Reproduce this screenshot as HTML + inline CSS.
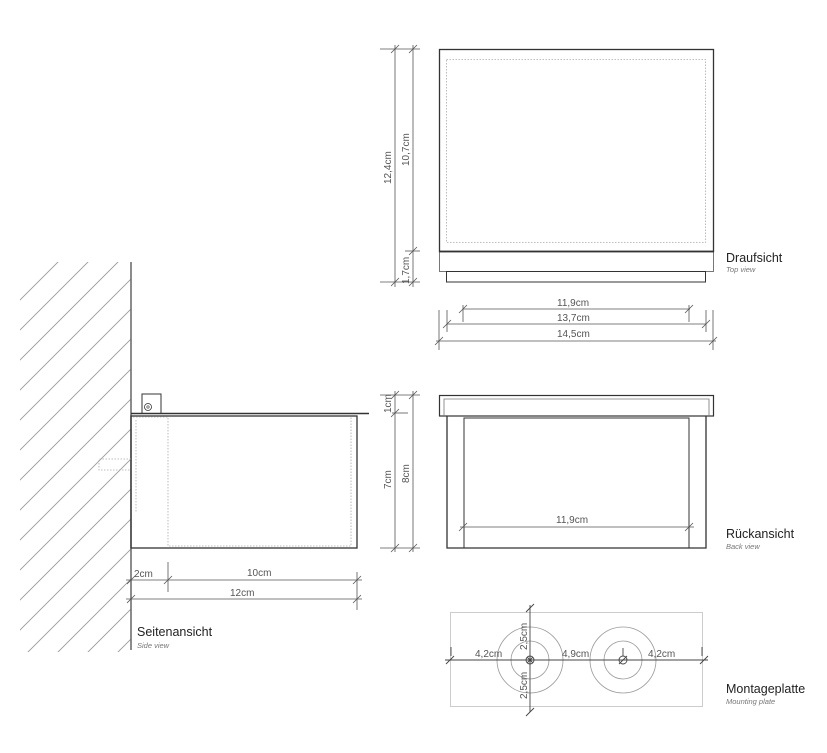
<!DOCTYPE html>
<html><head><meta charset="utf-8"><style>
html,body{margin:0;padding:0;background:#fff;width:827px;height:753px;overflow:hidden;}
svg{display:block;font-family:"Liberation Sans",sans-serif;}
.t{font-size:10px;fill:#555;}
.l{font-size:12.5px;fill:#222;}
.s{font-size:7.5px;fill:#777;font-style:italic;}
</style></head><body>
<svg width="827" height="753" viewBox="0 0 827 753">
<defs><clipPath id="wc"><rect x="20" y="262" width="111" height="390"/></clipPath></defs>
<g clip-path="url(#wc)" stroke="#999" stroke-width="0.9">
<g id="h">
<line x1="-100" y1="660" x2="300" y2="260"/>
</g>
<use href="#h" transform="translate(0,-240)"/><use href="#h" transform="translate(0,-210)"/>
<use href="#h" transform="translate(0,-180)"/><use href="#h" transform="translate(0,-150)"/>
<use href="#h" transform="translate(0,-120)"/><use href="#h" transform="translate(0,-90)"/>
<use href="#h" transform="translate(0,-60)"/><use href="#h" transform="translate(0,-30)"/>
<use href="#h" transform="translate(0,30)"/><use href="#h" transform="translate(0,60)"/>
<use href="#h" transform="translate(0,90)"/><use href="#h" transform="translate(0,120)"/>
<use href="#h" transform="translate(0,150)"/><use href="#h" transform="translate(0,180)"/>
<use href="#h" transform="translate(0,210)"/><use href="#h" transform="translate(0,240)"/>
<use href="#h" transform="translate(0,270)"/><use href="#h" transform="translate(0,300)"/>
</g>
<g fill="none" stroke="#333" stroke-width="1">
<line x1="131" y1="262" x2="131" y2="650" stroke="#666" stroke-width="1.5"/>
<rect x="131" y="416" width="226" height="132" stroke-width="1.3"/>
<line x1="131" y1="413.5" x2="369" y2="413.5" stroke-width="1.6"/>
<path d="M142 413V394H161V413"/>
<circle cx="148" cy="407" r="3.5" stroke-width="0.8"/><circle cx="148" cy="407" r="1.2" stroke-width="0.6"/>
<g stroke="#aaa" stroke-dasharray="1.5,1.5" stroke-width="0.8">
<path d="M133 417H168V546H351V417"/><path d="M131 459H99V470H131"/><path d="M136 420V512"/>
</g>
<g stroke="#555" stroke-width="0.8">
<line x1="126" y1="580" x2="362" y2="580"/><line x1="126" y1="599" x2="362" y2="599"/>
<line x1="168" y1="562" x2="168" y2="592"/><line x1="357" y1="572" x2="357" y2="610"/>
<path d="M127 584l8-8M164 584l8-8M353 584l8-8M127 603l8-8M353 603l8-8"/>
</g>
<rect x="439.5" y="49.5" width="274" height="202" stroke-width="1.3"/>
<rect x="439.5" y="251.5" width="274" height="20" stroke="#777"/>
<line x1="439" y1="251.5" x2="714" y2="251.5" stroke-width="1.8"/>
<rect x="446.5" y="271.5" width="259" height="10.5"/>
<rect x="446.5" y="59.5" width="259" height="183" stroke="#aaa" stroke-dasharray="1.5,1.5" stroke-width="0.8"/>
<g stroke="#555" stroke-width="0.8">
<line x1="395" y1="45" x2="395" y2="287"/><line x1="413" y1="45" x2="413" y2="287"/>
<line x1="380" y1="49" x2="420" y2="49"/><line x1="380" y1="282" x2="420" y2="282"/>
<line x1="405" y1="251" x2="420" y2="251"/>
<path d="M391 53l8-8M409 53l8-8M391 286l8-8M409 286l8-8M409 255l8-8"/>
<line x1="463" y1="309" x2="690" y2="309"/><line x1="447" y1="324" x2="706" y2="324"/><line x1="436" y1="341" x2="716" y2="341"/>
<line x1="439" y1="310" x2="439" y2="350"/><line x1="713" y1="310" x2="713" y2="350"/>
<line x1="447" y1="310" x2="447" y2="332"/><line x1="706" y1="310" x2="706" y2="332"/>
<line x1="463" y1="305" x2="463" y2="322"/><line x1="689" y1="305" x2="689" y2="322"/>
<path d="M459 313l8-8M685 313l8-8M443 328l8-8M702 328l8-8M435 345l8-8M709 345l8-8"/>
</g>
<rect x="439.5" y="395.5" width="274" height="20.5" stroke-width="1.2"/>
<path d="M444 416V399H709V416" stroke="#777" stroke-width="0.8"/>
<path d="M447 416V548H706V416" stroke-width="1.3"/>
<path d="M464 548V418H689V548" stroke-width="1"/>
<g stroke="#555" stroke-width="0.8">
<line x1="395" y1="391" x2="395" y2="552"/><line x1="413" y1="391" x2="413" y2="552"/>
<line x1="380" y1="395" x2="420" y2="395"/><line x1="380" y1="548" x2="420" y2="548"/>
<line x1="392" y1="413" x2="408" y2="413"/>
<path d="M391 399l8-8M409 399l8-8M391 552l8-8M409 552l8-8M391 417l8-8"/>
<line x1="460" y1="527" x2="694" y2="527"/>
<path d="M459 531l8-8M685 531l8-8"/>
</g>
<rect x="450.5" y="612.5" width="252" height="94" stroke="#ccc"/>
<g stroke="#999" stroke-width="0.8">
<circle cx="530" cy="660" r="33"/><circle cx="530" cy="660" r="19"/>
<circle cx="623" cy="660" r="33"/><circle cx="623" cy="660" r="19"/>
</g>
<g stroke="#444" stroke-width="0.9">
<line x1="445" y1="660" x2="708" y2="660"/><line x1="530" y1="605" x2="530" y2="712"/>
<path d="M446 664l8-8M700 664l8-8M526 612l8-8M526 716l8-8"/>
<line x1="451" y1="647" x2="451" y2="656"/><line x1="702" y1="647" x2="702" y2="656"/>
<line x1="623" y1="648" x2="623" y2="656"/>
<circle cx="530" cy="660" r="4"/><path d="M526 660h8M530 656v8M527 657l6 6M533 657l-6 6"/>
<circle cx="623" cy="660" r="4"/><path d="M619 664l8-8"/>
</g>
</g>
<text class="t" x="134" y="577">2cm</text>
<text class="t" x="247" y="576">10cm</text>
<text class="t" x="230" y="596">12cm</text>
<text class="t" x="557" y="306">11,9cm</text>
<text class="t" x="557" y="321">13,7cm</text>
<text class="t" x="557" y="337">14,5cm</text>
<text class="t" x="556" y="523">11,9cm</text>
<text class="t" transform="translate(391,184) rotate(-90)">12,4cm</text>
<text class="t" transform="translate(409,166) rotate(-90)">10,7cm</text>
<text class="t" transform="translate(409,284) rotate(-90)">1,7cm</text>
<text class="t" transform="translate(391,413) rotate(-90)">1cm</text>
<text class="t" transform="translate(391,489) rotate(-90)">7cm</text>
<text class="t" transform="translate(409,483) rotate(-90)">8cm</text>
<text class="t" x="475" y="657">4,2cm</text>
<text class="t" x="562" y="657">4,9cm</text>
<text class="t" x="648" y="657">4,2cm</text>
<text class="t" transform="translate(527,650) rotate(-90)">2,5cm</text>
<text class="t" transform="translate(527,699) rotate(-90)">2,5cm</text>
<text class="l" x="726" y="262">Draufsicht</text><text class="s" x="726" y="272">Top view</text>
<text class="l" x="726" y="538">Rückansicht</text><text class="s" x="726" y="549">Back view</text>
<text class="l" x="137" y="636">Seitenansicht</text><text class="s" x="137" y="648">Side view</text>
<text class="l" x="726" y="693">Montageplatte</text><text class="s" x="726" y="704">Mounting plate</text>
</svg>
</body></html>
